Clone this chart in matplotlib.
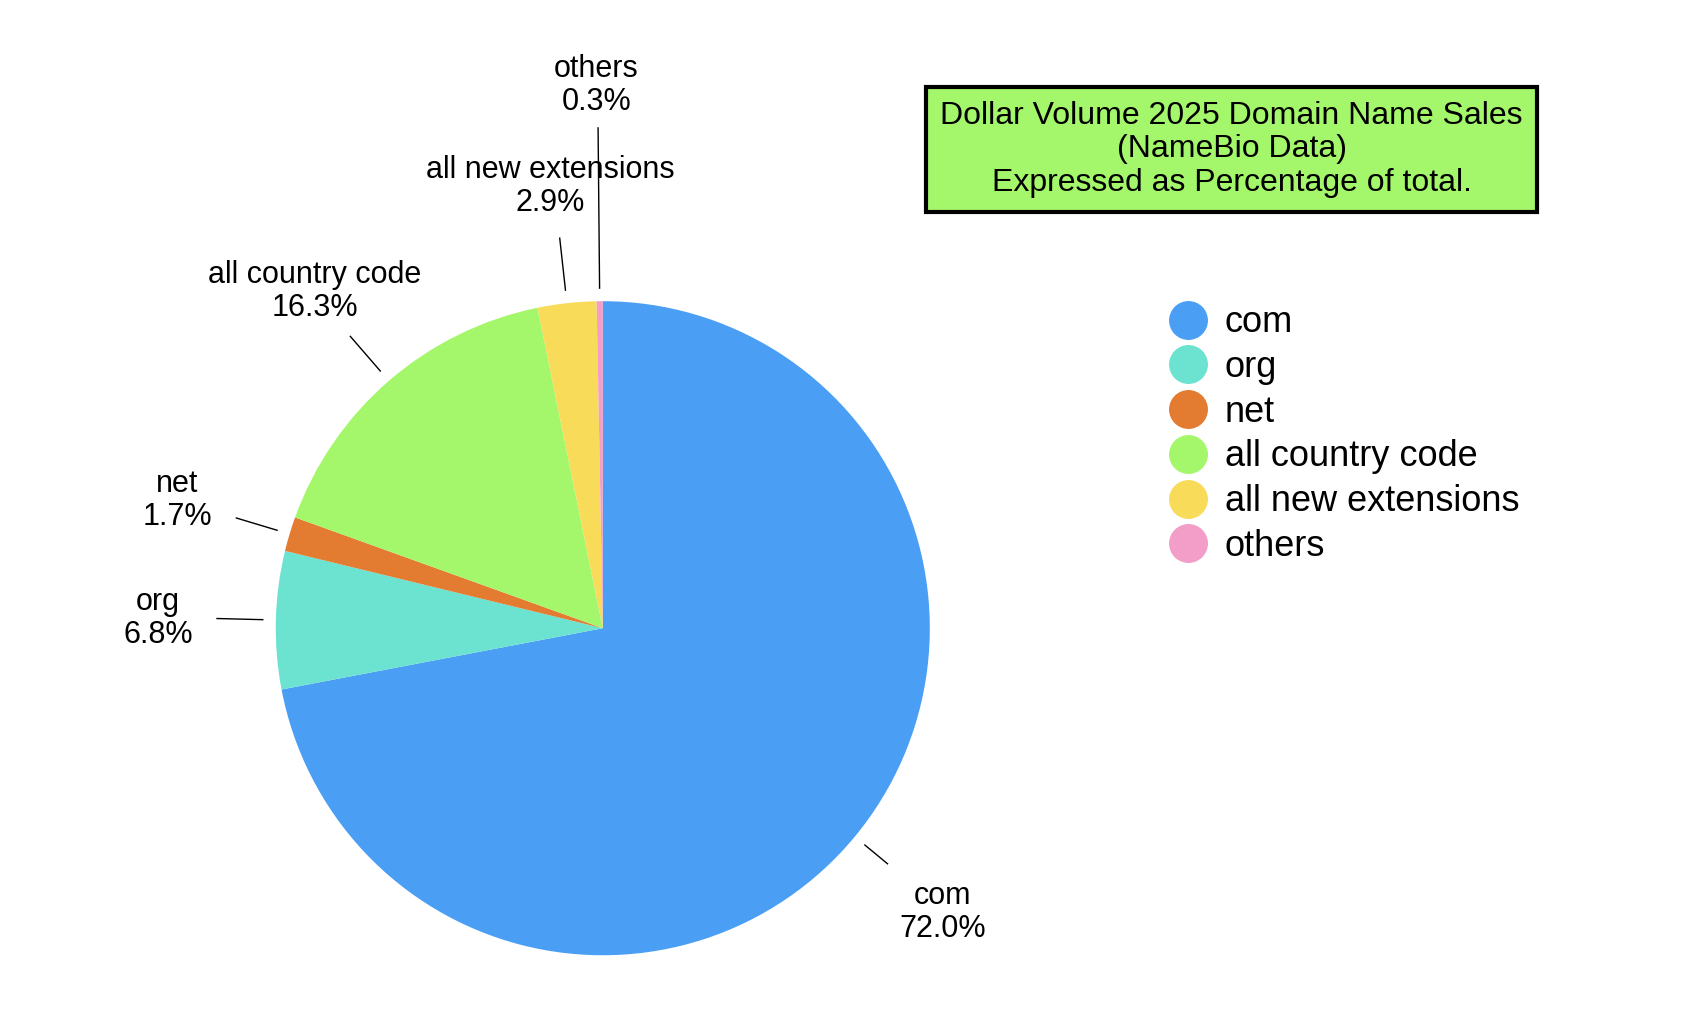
import matplotlib
matplotlib.use("Agg")
import matplotlib.pyplot as plt
from matplotlib.lines import Line2D
import numpy as np

plt.rcParams["font.family"] = ["Liberation Sans", "DejaVu Sans"]

labels = ["com", "org", "net", "all country code", "all new extensions", "others"]
values = [72.0, 6.8, 1.7, 16.3, 2.9, 0.3]
colors = ["#4a9ff5", "#6ce2d0", "#e37b30", "#a4f76a", "#f9db5a", "#f29ec8"]
title = "Dollar Volume 2025 Domain Name Sales\n(NameBio Data)\nExpressed as Percentage of total."

# label layout (text position, leader end radius)
text_pos = [(1.04, -0.87), (-1.36, 0.03), (-1.30, 0.39), (-0.88, 1.03), (-0.16, 1.35), (-0.02, 1.66)]
line_end = [1.13, 1.18, 1.17, 1.18, 1.20, 1.53]

fig = plt.figure(figsize=(16.98, 10.1), dpi=100)
ax = fig.add_axes([0.355 - 0.1926, 0.378 - 0.3238, 0.3852, 0.6476])
wedges, _ = ax.pie(values, colors=colors, startangle=90, counterclock=False, radius=1)
ax.set_xlim(-1, 1); ax.set_ylim(-1, 1); ax.set_aspect("equal")

for w, lab, v, tp, le in zip(wedges, labels, values, text_pos, line_end):
    ang = np.deg2rad((w.theta1 + w.theta2) / 2)
    c, s = np.cos(ang), np.sin(ang)
    ax.plot([1.04 * c, le * c], [1.04 * s, le * s], color="black", lw=1, clip_on=False)
    ax.text(tp[0], tp[1], f"{lab}\n{v:.1f}%", ha="center", va="center", fontsize=22,
            linespacing=1.15, clip_on=False)

fig.text(0.7253, 0.852, title, ha="center", va="center", fontsize=23, linespacing=1.15,
         bbox=dict(boxstyle="square,pad=0.45", facecolor="#a4f76a", edgecolor="black", linewidth=3))
# widen box to match reference proportions
fig.canvas.draw()

handles = [Line2D([], [], marker="o", linestyle="", markersize=27, markerfacecolor=c,
                  markeredgecolor=c) for c in colors]
fig.legend(handles, labels, loc="upper left", bbox_to_anchor=(0.668, 0.73), frameon=False,
           fontsize=26, handletextpad=0.4, labelspacing=0.27, handlelength=1.2)

fig.savefig("out.png", dpi=100, facecolor="white")
